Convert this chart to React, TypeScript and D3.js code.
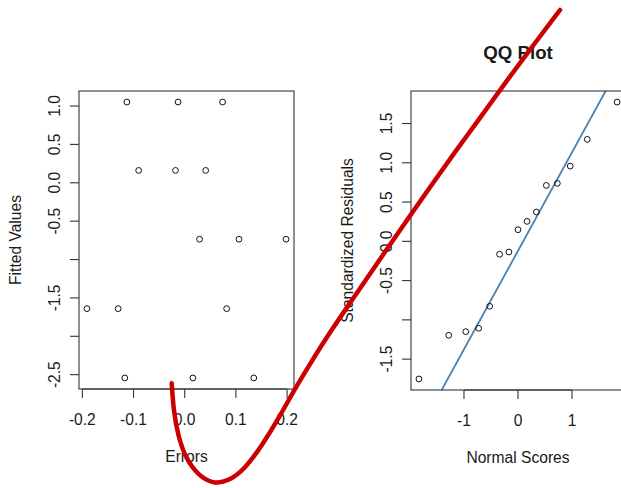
import React from "react";
import * as d3 from "d3";

// Residual plot: errors vs fitted values
const errors = [-0.113, -0.013, 0.074, -0.09, -0.018, 0.041, 0.029, 0.106, 0.198, -0.191, -0.13, 0.082, -0.117, 0.016, 0.135];
const fitted = [1.052, 1.052, 1.052, 0.161, 0.161, 0.161, -0.735, -0.735, -0.735, -1.64, -1.64, -1.64, -2.543, -2.543, -2.543];

// QQ plot
const normalScores = [-1.834, -1.282, -0.967, -0.728, -0.524, -0.341, -0.168, 0, 0.168, 0.341, 0.524, 0.728, 0.967, 1.282, 1.834];
const stdResiduals = [-1.752, -1.196, -1.15, -1.107, -0.827, -0.165, -0.136, 0.148, 0.254, 0.373, 0.712, 0.738, 0.958, 1.298, 1.773];

// Tick values and labels (R drops overlapping labels)
const leftXTicks = [-0.2, -0.1, 0.0, 0.1, 0.2];
const leftXLabels = ["-0.2", "-0.1", "0.0", "0.1", "0.2"];
const leftYTicks = [1.0, 0.5, 0.0, -0.5, -1.0, -1.5, -2.0, -2.5];
const leftYLabels = ["1.0", "0.5", "0.0", "-0.5", "", "-1.5", "", "-2.5"];
const rightXTicks = [-1, 0, 1];
const rightXLabels = ["-1", "0", "1"];
const rightYTicks = [1.5, 1.0, 0.5, 0.0, -0.5, -1.0, -1.5];
const rightYLabels = ["1.5", "1.0", "0.5", "0.0", "-0.5", "", "-1.5"];

// Hand-drawn red annotation stroke (page pixel coordinates)
const strokeX = [171.7, 173.5, 178, 186, 198, 213, 228, 245, 263, 280, 293, 310, 330, 355, 380, 405, 430, 455, 480, 505, 532, 560];
const strokeY = [383.3, 410, 436, 459, 475, 484, 481.5, 469, 444, 416, 392, 364, 332, 296, 259, 223, 187, 152, 118, 83, 47, 10];

const FONT = "'Liberation Sans', Arial, Helvetica, sans-serif";
const FS = 15.6;
const TXT = "#1a1a1a";

function ext(vals: number[]): [number, number] {
  const [a, b] = d3.extent(vals) as [number, number];
  const p = (b - a) * 0.04;
  return [a - p, b + p];
}

type PanelProps = {
  x0: number; x1: number; y0: number; y1: number;
  xs: d3.ScaleLinear<number, number>; ys: d3.ScaleLinear<number, number>;
  xTicks: number[]; xLabels: string[]; yTicks: number[]; yLabels: string[];
  xTitle: string; yTitle: string; id: string;
  children?: React.ReactNode;
};

function Panel(p: PanelProps) {
  const tick = 9;
  return (
    <g>
      <defs>
        <clipPath id={p.id}>
          <rect x={p.x0} y={p.y0} width={p.x1 - p.x0} height={p.y1 - p.y0} />
        </clipPath>
      </defs>
      {p.children}
      <rect x={p.x0} y={p.y0} width={p.x1 - p.x0} height={p.y1 - p.y0} fill="none" stroke="#333" strokeWidth={1.1} />
      {/* x axis */}
      <line x1={p.xs(p.xTicks[0])} x2={p.xs(p.xTicks[p.xTicks.length - 1])} y1={p.y1} y2={p.y1} stroke="#333" strokeWidth={1.1} />
      {p.xTicks.map((t, i) => (
        <g key={"xt" + i}>
          <line x1={p.xs(t)} x2={p.xs(t)} y1={p.y1} y2={p.y1 + tick} stroke="#333" strokeWidth={1.1} />
          <text x={p.xs(t)} y={p.y1 + 36} textAnchor="middle" fontSize={FS} fontFamily={FONT} fill={TXT}>{p.xLabels[i]}</text>
        </g>
      ))}
      {/* y axis */}
      {p.yTicks.map((t, i) => (
        <g key={"yt" + i}>
          <line x1={p.x0} x2={p.x0 - tick} y1={p.ys(t)} y2={p.ys(t)} stroke="#333" strokeWidth={1.1} />
          {p.yLabels[i] ? (
            <text transform={`translate(${p.x0 - 19},${p.ys(t)}) rotate(-90)`} textAnchor="middle" fontSize={FS} fontFamily={FONT} fill={TXT}>{p.yLabels[i]}</text>
          ) : null}
        </g>
      ))}
      <text x={(p.x0 + p.x1) / 2} y={p.y1 + 73} textAnchor="middle" fontSize={FS} fontFamily={FONT} fill={TXT}>{p.xTitle}</text>
      <text transform={`translate(${p.x0 - 58},${(p.y0 + p.y1) / 2}) rotate(-90)`} textAnchor="middle" fontSize={FS} fontFamily={FONT} fill={TXT}>{p.yTitle}</text>
    </g>
  );
}

export default function App() {
  const W = 621, H = 488;

  const xL = d3.scaleLinear().domain(ext(errors)).range([79, 294]);
  const yL = d3.scaleLinear().domain(ext(fitted)).range([389, 91]);

  const xR = d3.scaleLinear().domain(ext(normalScores)).range([411, 625]);
  const yR = d3.scaleLinear().domain(ext(stdResiduals)).range([390, 91]);

  // qqline through the quartiles
  const sorted = [...stdResiduals].sort((a, b) => a - b);
  const q1 = d3.quantile(sorted, 0.25)!;
  const q3 = d3.quantile(sorted, 0.75)!;
  const z = 0.6744898;
  const slope = (q3 - q1) / (2 * z);
  const intercept = q1 + slope * z;
  const [xa, xb] = xR.domain();
  const lineX = [xa - 1, xb + 1];

  const sx = d3.scaleLinear().domain([0, 1]).range([0, 1]);
  const strokePath = d3.line<number>()
    .x((_, i) => sx(strokeX[i]))
    .y((_, i) => sx(strokeY[i]))
    .curve(d3.curveBasis)(strokeX);

  return (
    <svg width={W} height={H} style={{ position: "absolute", left: 0, top: 0, background: "#fff", overflow: "hidden" }}>
      <rect x={0} y={0} width={W} height={H} fill="#fff" />
      <Panel id="clipL" x0={79} x1={294} y0={91} y1={389} xs={xL} ys={yL}
        xTicks={leftXTicks} xLabels={leftXLabels} yTicks={leftYTicks} yLabels={leftYLabels}
        xTitle="Errors" yTitle="Fitted Values">
        {errors.map((e, i) => (
          <circle key={i} cx={xL(e)} cy={yL(fitted[i])} r={2.9} fill="none" stroke="#111" strokeWidth={1} />
        ))}
      </Panel>
      <Panel id="clipR" x0={411} x1={625} y0={91} y1={390} xs={xR} ys={yR}
        xTicks={rightXTicks} xLabels={rightXLabels} yTicks={rightYTicks} yLabels={rightYLabels}
        xTitle="Normal Scores" yTitle="Standardized Residuals">
        <g clipPath="url(#clipR)">
          <line x1={xR(lineX[0])} y1={yR(intercept + slope * lineX[0])} x2={xR(lineX[1])} y2={yR(intercept + slope * lineX[1])}
            stroke="#4682B4" strokeWidth={1.8} />
        </g>
        {normalScores.map((s, i) => (
          <circle key={i} cx={xR(s)} cy={yR(stdResiduals[i])} r={2.9} fill="none" stroke="#111" strokeWidth={1} />
        ))}
      </Panel>
      <text x={518} y={59} textAnchor="middle" fontSize={18.7} fontWeight="bold" fontFamily={FONT} fill={TXT}>QQ Plot</text>
      <path d={strokePath ?? ""} fill="none" stroke="#CC0000" strokeWidth={4.5} strokeLinecap="round" strokeLinejoin="round" />
    </svg>
  );
}
